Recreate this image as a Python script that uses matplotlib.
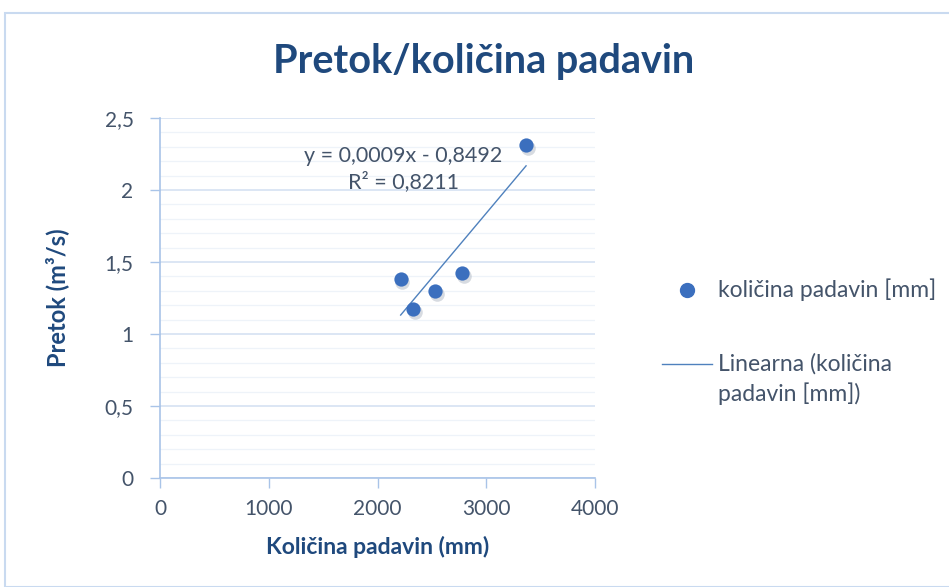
import numpy as np
import matplotlib
matplotlib.use("Agg")
import matplotlib.pyplot as plt
from matplotlib.patches import Rectangle
from matplotlib.lines import Line2D

# data
padavine = [2213, 2330, 2529, 2777, 3366]
pretok = [1.38, 1.175, 1.30, 1.425, 2.31]
x_ticks = [0, 1000, 2000, 3000, 4000]
y_ticks = [0, 0.5, 1, 1.5, 2, 2.5]
y_tick_labels = ["0", "0,5", "1", "1,5", "2", "2,5"]
title = "Pretok/količina padavin"
x_label = "Količina padavin (mm)"
y_label = "Pretok (m³/s)"
series_name = "količina padavin [mm]"
trend_name = "Linearna (količina\npadavin [mm])"
eq_text = "y = 0,0009x - 0,8492\nR² = 0,8211"

plt.rcParams['font.family'] = ['Lato', 'DejaVu Sans']

txt_col = "#44546A"
title_col = "#1F497D"
pt_col = "#3B6FBE"
axis_col = "#A9C4E8"

fig = plt.figure(figsize=(9.49, 5.87), dpi=100)
fig.patches.append(Rectangle((5/949, 0), 1, 1 - 13/587, transform=fig.transFigure,
                             fill=False, edgecolor="#C9DAF0", linewidth=1.5))
ax = fig.add_axes([160/949, 1 - 478/587, 435/949, 360/587])

ax.set_xlim(0, 4000)
ax.set_ylim(0, 2.5)

# gridlines
for v in np.arange(0, 2.5001, 0.1):
    major = abs(v * 2 - round(v * 2)) < 1e-6
    ax.axhline(v, color="#D6E2F2" if major else "#EEF3F9",
               linewidth=1.2 if major else 0.9, zorder=0)

# trend line
coef = np.polyfit(padavine, pretok, 1)
xs = np.array([min(padavine), max(padavine)])
ax.plot(xs, np.polyval(coef, xs), color="#4F81BD", linewidth=1.0, zorder=2)

# shadow + points
ax.scatter(np.array(padavine) + 15, np.array(pretok) - 0.02, s=110, color="#B0B8C4",
           alpha=0.5, zorder=3, linewidths=0)
ax.scatter(padavine, pretok, s=105, color=pt_col, zorder=4, linewidths=0)

ax.text(2240, 2.146, eq_text, ha="center", va="center", fontsize=15.5, color=txt_col,
        linespacing=1.3, zorder=5)

for s in ["top", "right"]:
    ax.spines[s].set_visible(False)
for s in ["left", "bottom"]:
    ax.spines[s].set_color(axis_col)
    ax.spines[s].set_linewidth(1.2)

ax.set_xticks(x_ticks)
ax.set_yticks(y_ticks)
ax.set_yticklabels(y_tick_labels)
ax.tick_params(axis="both", colors=axis_col, labelcolor=txt_col, labelsize=15,
               direction="out", length=7, width=1.0)
ax.tick_params(axis="x", pad=8)
ax.tick_params(axis="y", pad=12)

ax.set_xlabel(x_label, fontsize=16.5, fontweight="bold", color=title_col, labelpad=12)
fig.text(57/949, 1 - 298/587, y_label, rotation=90, fontsize=17, fontweight="bold",
         color=title_col, ha="center", va="center")

fig.text(484/949, 1 - 62/587, title, ha="center", va="center", fontsize=28.5,
         fontweight="bold", color=title_col)

# legend
fig.add_artist(Line2D([687/949], [1 - 290/587], marker="o", markersize=10,
                      color=pt_col, linestyle="none", transform=fig.transFigure))
fig.text(718/949, 1 - 290/587, series_name, fontsize=16.5, color=txt_col,
         ha="left", va="center")
fig.add_artist(Line2D([662/949, 712/949], [1 - 364/587, 1 - 364/587],
                      color="#4F81BD", linewidth=1.0, transform=fig.transFigure))
for i, line in enumerate(trend_name.split("\n")):
    fig.text(718/949, 1 - (364 + 30 * i)/587, line, fontsize=16.5, color=txt_col,
             ha="left", va="center")

fig.savefig("out.png", dpi=100)
